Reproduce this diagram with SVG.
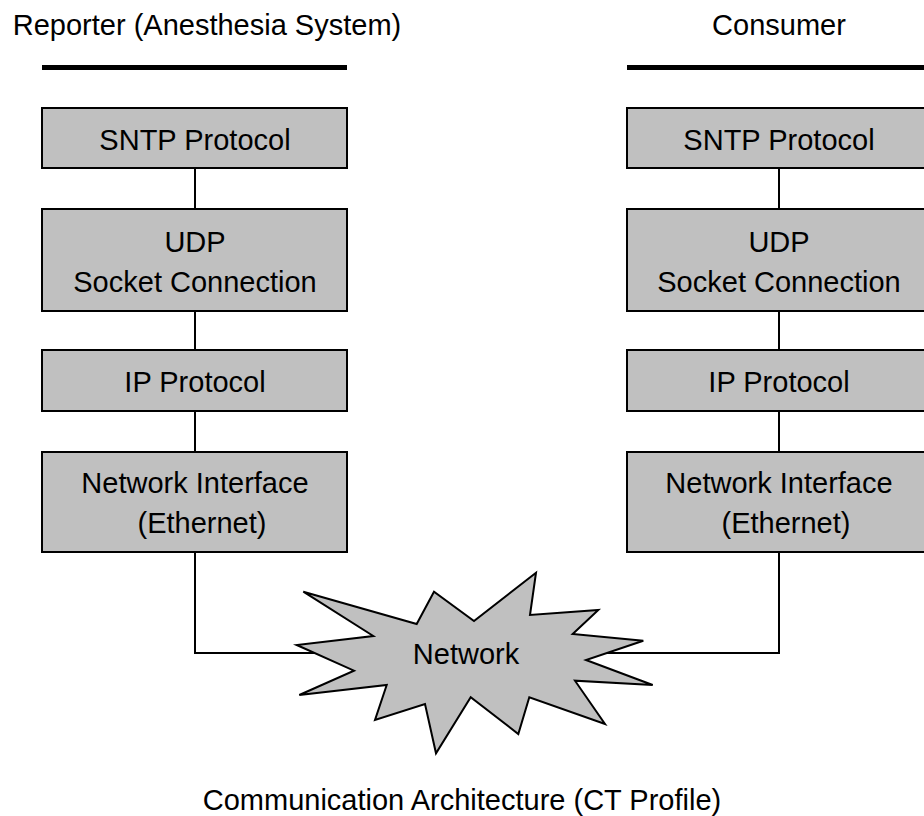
<svg xmlns="http://www.w3.org/2000/svg" width="924" height="816" viewBox="0 0 924 816">
<style>
.t{font-family:"Liberation Sans",Arial,sans-serif;font-size:29px;fill:#000;text-anchor:middle}
.box{fill:#c0c0c0;stroke:#000;stroke-width:2}
.bar{stroke:#000;stroke-width:5}
.con{fill:none;stroke:#000;stroke-width:2}
</style>
<rect width="924" height="816" fill="#fff"/>
<text class="t" x="207" y="35">Reporter (Anesthesia System)</text>
<text class="t" x="779" y="35">Consumer</text>
<line class="bar" x1="42" y1="67.5" x2="347" y2="67.5"/>
<line class="bar" x1="627" y1="67.5" x2="924" y2="67.5"/>
<g id="connectors">
<line class="con" x1="195" y1="168" x2="195" y2="209"/>
<line class="con" x1="195" y1="311" x2="195" y2="350"/>
<line class="con" x1="195" y1="411" x2="195" y2="452"/>
<polyline class="con" points="195,552 195,653 320,653"/>
<line class="con" x1="779" y1="168" x2="779" y2="209"/>
<line class="con" x1="779" y1="311" x2="779" y2="350"/>
<line class="con" x1="779" y1="411" x2="779" y2="452"/>
<polyline class="con" points="779,552 779,653 600,653"/>
</g>
<g id="l-sntp"><rect class="box" x="42" y="108" width="305" height="60"/><text class="t" x="195" y="150">SNTP Protocol</text></g>
<g id="l-udp"><rect class="box" x="42" y="209" width="305" height="102"/><text class="t" x="195" y="252">UDP</text><text class="t" x="195" y="292">Socket Connection</text></g>
<g id="l-ip"><rect class="box" x="42" y="350" width="305" height="61"/><text class="t" x="195" y="392">IP Protocol</text></g>
<g id="l-ni"><rect class="box" x="42" y="452" width="305" height="100"/><text class="t" x="195" y="493">Network Interface</text><text class="t" x="202" y="533">(Ethernet)</text></g>
<g id="r-sntp"><rect class="box" x="627" y="108" width="305" height="60"/><text class="t" x="779" y="150">SNTP Protocol</text></g>
<g id="r-udp"><rect class="box" x="627" y="209" width="305" height="102"/><text class="t" x="779" y="252">UDP</text><text class="t" x="779" y="292">Socket Connection</text></g>
<g id="r-ip"><rect class="box" x="627" y="350" width="305" height="61"/><text class="t" x="779" y="392">IP Protocol</text></g>
<g id="r-ni"><rect class="box" x="627" y="452" width="305" height="100"/><text class="t" x="779" y="493">Network Interface</text><text class="t" x="786" y="533">(Ethernet)</text></g>
<g id="network">
<polygon class="box" points="303.3,591.7 416.7,624 434,591.7 474,621 536,572.7 530,615 598.3,610 572.7,634 643.3,640.7 586,660 652.7,685 575,680.7 605,724 529.3,697.3 518.3,734 470.7,697.3 436,753.3 425,704 375,720 386.7,685 299.3,695 354,670.7 296.7,645 373.3,636"/>
<text class="t" x="466" y="664">Network</text>
</g>
<text class="t" x="462" y="810">Communication Architecture (CT Profile)</text>
</svg>
